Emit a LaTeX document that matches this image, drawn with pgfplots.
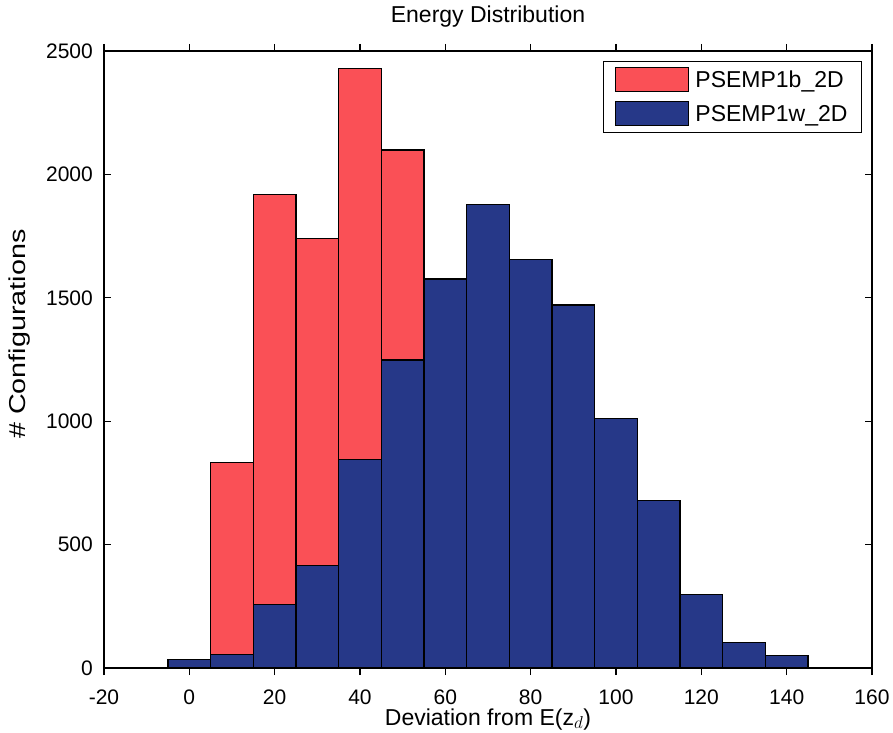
\documentclass[border=0pt]{standalone}
\usepackage{pgfplots}
\pgfplotsset{compat=1.18}
\usepackage{fontspec}
\setmainfont{Liberation Sans}
\definecolor{barred}{RGB}{250,80,86}
\definecolor{barblue}{RGB}{38,56,136}
\begin{document}
\begin{tikzpicture}
\begin{axis}[
  scale only axis,
  width=768bp, height=617bp,
  xmin=-20, xmax=160, ymin=0, ymax=2500,
  xtick={-20,0,...,160},
  ytick={0,500,...,2500},
  tick align=inside,
  major tick length=7bp,
  axis line style={line width=1.2pt},
  every tick/.style={line width=1.1pt, black},
  font=\fontsize{21bp}{25bp}\selectfont,
  /pgf/number format/assume math mode=true,
  /pgf/number format/1000 sep={},
  xticklabel style={anchor=base, inner sep=0pt, yshift=-29bp},
  yticklabel style={anchor=east, inner sep=0pt, xshift=-11bp},
  title={Energy Distribution},
  title style={at={(0.5,1)}, anchor=base, inner sep=0pt, yshift=23bp, font=\fontsize{23bp}{27bp}\selectfont},
  xlabel={Deviation from E(z$_d$)},
  xlabel style={at={(axis description cs:0.5,0)}, anchor=base, inner sep=0pt, yshift=-57bp, font=\fontsize{23bp}{27bp}\selectfont},
  ylabel={\scalebox{1.25}[1]{\# Configurations}},
  ylabel style={at={([xshift=-78bp]axis description cs:0,0.541)}, anchor=base, inner sep=0pt, font=\fontsize{23bp}{27bp}\selectfont},
  ybar, bar width=10, bar shift=0pt,
  legend style={at={(0.987,0.984)}, anchor=north east, draw=black, line width=1pt,
    inner xsep=12bp, inner ysep=6bp, row sep=9bp,
    font=\fontsize{23bp}{25bp}\selectfont,
    /tikz/every odd column/.style={column sep=4bp}},
  legend cell align=left,
  legend image code/.code={\draw[#1, line width=1pt] (0bp,-12bp) rectangle (73bp,12bp);},
]
\addplot[fill=barred, draw=black, line width=1.1pt] coordinates {
  (0,0) (10,832) (20,1919) (30,1741) (40,2430) (50,2099) (60,0) (70,0)
};
\addlegendentry{PSEMP1b\_2D\hspace{14bp}}
\addplot[fill=barblue, draw=black, line width=1.1pt] coordinates {
  (0,34) (10,53) (20,258) (30,417) (40,843) (50,1248) (60,1576) (70,1879)
  (80,1657) (90,1471) (100,1012) (110,678) (120,299) (130,103) (140,49)
};
\addlegendentry{PSEMP1w\_2D}
\end{axis}
\pgfresetboundingbox
\path ([shift={(-104bp,-65bp)}]current axis.south west) rectangle ([shift={(21bp,51bp)}]current axis.north east);
\end{tikzpicture}
\end{document}
